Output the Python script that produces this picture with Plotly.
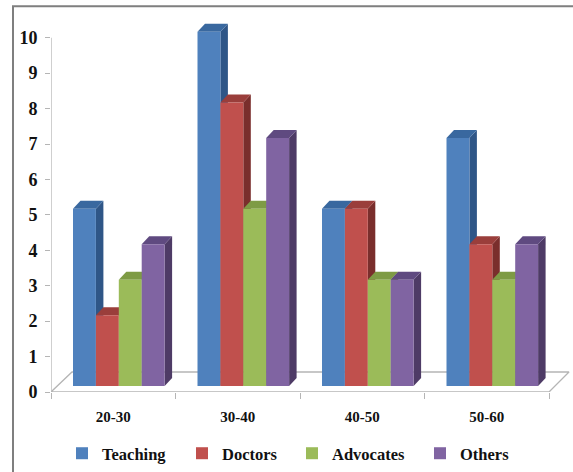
import plotly.graph_objects as go

categories = ["20-30", "30-40", "40-50", "50-60"]
series_names = ["Teaching", "Doctors", "Advocates", "Others"]
teaching = [5, 10, 5, 7]
doctors = [2, 8, 5, 4]
advocates = [3, 5, 3, 3]
others = [4, 7, 3, 4]
y_ticks = list(range(0, 11))

all_values = [teaching, doctors, advocates, others]
front = ["#4F81BD", "#C0504D", "#9BBB59", "#8064A2"]
side = ["#2F5687", "#7A2E2C", "#6A8537", "#4E3B66"]
top = ["#39689F", "#9A3E3B", "#7E9B45", "#5F4A80"]
legend_left = [62, 182, 292, 420]

W, H = 573, 472
L, R, B = 51, 549, 392
px_x = (R - L) / 4
px_y = 35.45
Y_MAX = 10.5
X_MAX = 3.5 + 22 / px_x
R_EXT = R + 22
T_EXT = B - Y_MAX * px_y
bar_w = 22.9 / px_x
lift = 6 / px_y
dx = 7.5 / px_x
dy = 8 / px_y
start = (73 - (L + px_x / 2)) / px_x
font = "Liberation Serif"
grey = "#B5B5B5"
ink = "#111111"

fig = go.Figure()

# floor and value axis line
fig.add_trace(go.Scatter(
    x=[-0.5, -0.5 + 21 / px_x, 3.5 + 20 / px_x, 3.5, -0.5],
    y=[0, 20 / px_y, 20 / px_y, 0, 0],
    mode="lines", line=dict(color=grey, width=1.3),
    showlegend=False, hoverinfo="skip"))
fig.add_trace(go.Scatter(
    x=[-0.5, -0.5], y=[0, 10], mode="lines",
    line=dict(color=grey, width=1.3), showlegend=False, hoverinfo="skip"))

# depth faces on the back axes, sides before tops
for face in ("side", "top"):
    for s, vals in enumerate(all_values):
        for c, v in enumerate(vals):
            x0 = c + start + s * bar_w
            x1 = x0 + bar_w
            yt = v + lift
            if face == "side":
                xs = [x1, x1 + dx, x1 + dx, x1, x1]
                ys = [lift, lift + dy, yt + dy, yt, lift]
                col = side[s]
            else:
                xs = [x0, x0 + dx, x1 + dx, x1, x0]
                ys = [yt, yt + dy, yt + dy, yt, yt]
                col = top[s]
            fig.add_trace(go.Scatter(
                x=xs, y=ys, mode="lines", fill="toself", fillcolor=col,
                line=dict(width=0), showlegend=False, hoverinfo="skip"))

# front faces on an overlaying axis so they cover the depth faces
for s, vals in enumerate(all_values):
    fig.add_trace(go.Bar(
        x=list(range(4)), y=vals, name=series_names[s],
        offset=start + s * bar_w, width=bar_w,
        marker=dict(color=front[s], line=dict(width=0)),
        yaxis="y2", legend="legend" if s == 0 else f"legend{s + 1}"))

legends = {}
for s, left in enumerate(legend_left):
    key = "legend" if s == 0 else f"legend{s + 1}"
    legends[key] = dict(
        orientation="h", xref="container", yref="container",
        x=left / W, xanchor="left", y=(H - 436) / H, yanchor="top",
        font=dict(family=font, size=16.5, weight="bold", color=ink),
        itemwidth=30, bgcolor="rgba(0,0,0,0)",
    )

fig.update_layout(
    width=W, height=H, autosize=False,
    margin=dict(l=L, r=W - R_EXT, t=T_EXT, b=H - B),
    paper_bgcolor="white", plot_bgcolor="rgba(0,0,0,0)",
    barmode="overlay",
    font=dict(family=font, color=ink),
    xaxis=dict(
        type="linear", range=[-0.5, X_MAX], tickvals=list(range(4)),
        ticktext=categories, ticklen=0, showgrid=False, zeroline=False,
        showline=False, ticklabelstandoff=14,
        tickfont=dict(family=font, size=15, weight="bold", color=ink),
        minor=dict(tickvals=[-0.5, 0.5, 1.5, 2.5, 3.5], ticks="outside",
                   ticklen=6, tickcolor=grey, tickwidth=1, showgrid=False),
    ),
    yaxis=dict(
        range=[0, Y_MAX], tickvals=y_ticks, ticks="outside", ticklen=5,
        tickcolor=grey, showgrid=False, zeroline=False,
        showline=False, ticklabelstandoff=4,
        tickfont=dict(family=font, size=18, weight="bold", color=ink),
    ),
    yaxis2=dict(overlaying="y", range=[-lift, Y_MAX - lift], visible=False),
    shapes=[dict(type="rect", xref="paper", yref="paper",
                 x0=(13 - L) / (R_EXT - L), x1=(600 - L) / (R_EXT - L),
                 y0=(B - 500) / (B - T_EXT), y1=(B - 6) / (B - T_EXT),
                 line=dict(color="#7F7F7F", width=2), layer="below")],
    **legends,
)

fig.write_html("out.html", config={"displayModeBar": False},
               post_script="document.body.style.margin='0';")
